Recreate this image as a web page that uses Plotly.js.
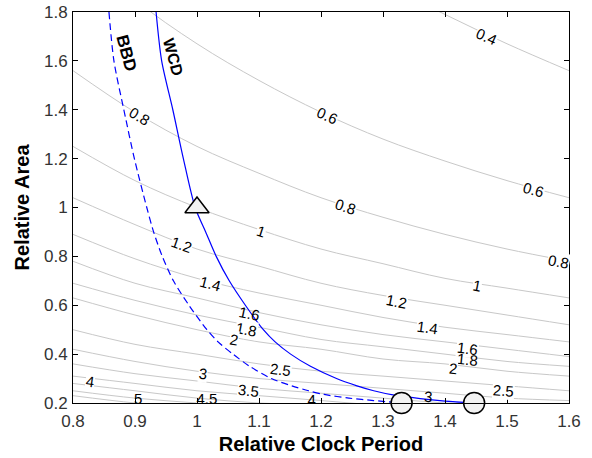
<!DOCTYPE html>
<html>
<head>
<meta charset="utf-8">
<script src="https://cdn.plot.ly/plotly-3.0.1.min.js"></script>
<style>html,body{margin:0;padding:0;background:#fff;}#chart{width:592px;height:458px;}</style>
</head>
<body>
<div id="chart"></div>
<script>
// ---- Data ----
// Clock-period positions at which each gray contour line was read
const contourT = [0.8, 0.9, 1.0, 1.1, 1.2, 1.3, 1.4, 1.5, 1.6];
// Contour level values (labels)
const contourLevels = [0.4, 0.6, 0.8, 1, 1.2, 1.4, 1.6, 1.8, 2, 2.5, 3, 3.5, 4, 4.5, 5, 5.5];
// Relative area of each contour line at contourT
const contourA = [
  [3.13, 2.78, 2.50, 2.27, 2.08, 1.92, 1.79, 1.67, 1.56],
  [2.08, 1.85, 1.67, 1.52, 1.39, 1.28, 1.19, 1.11, 1.04],
  [1.56, 1.39, 1.25, 1.14, 1.04, 0.96, 0.89, 0.83, 0.78],
  [1.25, 1.11, 1.00, 0.91, 0.83, 0.77, 0.71, 0.67, 0.63],
  [1.04, 0.93, 0.83, 0.76, 0.69, 0.64, 0.60, 0.56, 0.52],
  [0.89, 0.79, 0.71, 0.65, 0.60, 0.55, 0.51, 0.48, 0.45],
  [0.78, 0.69, 0.63, 0.57, 0.52, 0.48, 0.45, 0.42, 0.39],
  [0.69, 0.62, 0.56, 0.51, 0.46, 0.43, 0.40, 0.37, 0.35],
  [0.63, 0.56, 0.50, 0.45, 0.42, 0.38, 0.36, 0.33, 0.31],
  [0.50, 0.44, 0.40, 0.36, 0.33, 0.31, 0.29, 0.27, 0.25],
  [0.42, 0.37, 0.33, 0.30, 0.28, 0.26, 0.24, 0.22, 0.21],
  [0.36, 0.32, 0.29, 0.26, 0.24, 0.22, 0.20, 0.19, 0.18],
  [0.31, 0.28, 0.25, 0.23, 0.21, 0.19, 0.18, 0.17, 0.16],
  [0.28, 0.25, 0.22, 0.20, 0.19, 0.17, 0.16, 0.15, 0.14],
  [0.25, 0.22, 0.20, 0.18, 0.17, 0.15, 0.14, 0.13, 0.13],
  [0.23, 0.20, 0.18, 0.17, 0.15, 0.14, 0.13, 0.12, 0.11]
];

// WCD curve (solid)
const wcdT = [0.934, 0.943, 0.961, 0.978, 0.997, 1.014, 1.031, 1.052, 1.078, 1.107, 1.126, 1.151, 1.183, 1.225, 1.258, 1.285, 1.316, 1.36, 1.40, 1.447];
const wcdA = [1.80, 1.60, 1.40, 1.20, 1.00, 0.90, 0.80, 0.70, 0.60, 0.50, 0.45, 0.40, 0.35, 0.30, 0.27, 0.25, 0.233, 0.218, 0.208, 0.20];
// BBD curve (dashed)
const bbdT = [0.858, 0.866, 0.882, 0.899, 0.919, 0.930, 0.944, 0.962, 0.987, 1.016, 1.034, 1.058, 1.085, 1.12, 1.153, 1.18, 1.205, 1.245, 1.285, 1.33];
const bbdA = [1.80, 1.60, 1.40, 1.20, 1.00, 0.90, 0.80, 0.70, 0.60, 0.50, 0.45, 0.40, 0.35, 0.30, 0.27, 0.25, 0.235, 0.22, 0.21, 0.20];

// Design points
const triT = [1.0];
const triA = [1.0];
const circT = [1.33, 1.447];
const circA = [0.20, 0.20];

// Contour labels (inline, rotated along the line)
const labelText  = ['0.4', '0.6', '0.6', '0.8', '0.8', '0.8', '1', '1', '1.2', '1.2', '1.4', '1.4', '1.6', '1.6', '1.8', '1.8', '2', '2', '2.5', '2.5', '3', '3', '3.5', '4'];
const labelT     = [1.467, 1.21, 1.542, 0.908, 1.239, 1.583, 1.104, 1.451, 0.975, 1.322, 1.021, 1.372, 1.085, 1.437, 1.08, 1.437, 1.059, 1.413, 1.134, 1.494, 1.010, 1.372, 1.083, 0.828];
const labelA     = [1.699, 1.378, 1.072, 1.372, 1.003, 0.778, 0.901, 0.679, 0.847, 0.615, 0.690, 0.510, 0.567, 0.424, 0.502, 0.376, 0.461, 0.342, 0.338, 0.253, 0.322, 0.226, 0.253, 0.287];
const labelAngle = [24, 24, 15, 31, 18, 11, 18, 11, 19, 11, 15, 8, 12, 7, 11, 6, 10, 6, 7, 4, 7, 4, 6, 8];
const labelNoBg  = ['1.6@1.085', '3@1.372', '1.8@1.437'];
// Labels partly hidden by the bottom axis
const cutText = ['5', '4.5', '4'];
const cutT = [0.905, 1.016, 1.185];
const cutA = [0.212, 0.213, 0.207];

// Axis ticks
const xTicks = [0.8, 0.9, 1.0, 1.1, 1.2, 1.3, 1.4, 1.5, 1.6];
const xTickText = ['0.8', '0.9', '1', '1.1', '1.2', '1.3', '1.4', '1.5', '1.6'];
const yTicks = [0.2, 0.4, 0.6, 0.8, 1.0, 1.2, 1.4, 1.6, 1.8];
const yTickText = ['0.2', '0.4', '0.6', '0.8', '1', '1.2', '1.4', '1.6', '1.8'];

// ---- Build traces ----
const FONT = 'Arial, Liberation Sans, sans-serif';
const traces = [];
contourLevels.forEach((lv, i) => {
  traces.push({
    type: 'scatter', mode: 'lines', x: contourT, y: contourA[i],
    line: {color: '#c8c8c8', width: 1, shape: 'spline'},
    hoverinfo: 'skip', showlegend: false, name: String(lv)
  });
});
traces.push({
  type: 'scatter', mode: 'text', x: cutT, y: cutA, text: cutText,
  textfont: {family: FONT, size: 15, color: '#000'},
  textposition: 'middle center', cliponaxis: true, showlegend: false, hoverinfo: 'skip'
});
traces.push({
  type: 'scatter', mode: 'lines', x: bbdT, y: bbdA, name: 'BBD',
  line: {color: '#0000ff', width: 1.2, dash: '7px,4px', shape: 'spline', smoothing: 0.8}, showlegend: false
});
traces.push({
  type: 'scatter', mode: 'lines', x: wcdT, y: wcdA, name: 'WCD',
  line: {color: '#0000ff', width: 1.2, shape: 'spline', smoothing: 0.8}, showlegend: false
});
traces.push({
  type: 'scatter', mode: 'markers', x: triT, y: triA, cliponaxis: false,
  marker: {symbol: 'triangle-up', size: 21, color: '#f2f2f2', line: {color: '#000', width: 1.5}},
  showlegend: false
});
traces.push({
  type: 'scatter', mode: 'markers', x: circT, y: circA, cliponaxis: false,
  marker: {symbol: 'circle', size: 21, color: '#f2f2f2', line: {color: '#000', width: 1.5}},
  showlegend: false
});

const labelFont = {family: FONT, size: 15, color: '#000'};
const annotations = labelText.map((t, i) => {
  const key = t + '@' + labelT[i];
  const noBg = labelNoBg.indexOf(key) >= 0;
  return {
    x: labelT[i], y: labelA[i], xref: 'x', yref: 'y', text: t, showarrow: false,
    textangle: labelAngle[i], font: labelFont,
    bgcolor: noBg ? 'rgba(0,0,0,0)' : '#ffffff', borderpad: 0,
    xanchor: 'center', yanchor: 'middle'
  };
});
annotations.push({
  x: 0.8865, y: 1.631, xref: 'x', yref: 'y', text: '<b>BBD</b>', showarrow: false,
  textangle: 75, font: {family: FONT, size: 17, color: '#000'}
});
annotations.push({
  x: 0.961, y: 1.617, xref: 'x', yref: 'y', text: '<b>WCD</b>', showarrow: false,
  textangle: 75, font: {family: FONT, size: 16, color: '#000'}
});

const axisCommon = {
  showgrid: false, zeroline: false, showline: true, linecolor: '#000', linewidth: 1,
  mirror: 'ticks', ticks: 'inside', ticklen: 5, tickcolor: '#000', tickwidth: 1,
  tickfont: {family: FONT, size: 17, color: '#333'},
  tickmode: 'array'
};

const layout = {
  width: 592, height: 458,
  margin: {l: 73, r: 23, t: 12, b: 55},
  paper_bgcolor: '#fff', plot_bgcolor: '#fff',
  xaxis: Object.assign({}, axisCommon, {
    range: [0.8, 1.6], tickvals: xTicks, ticktext: xTickText, ticklabelstandoff: 3,
    title: {text: '<b>Relative Clock Period</b>', standoff: 6,
      font: {family: FONT, size: 20, color: '#000'}}
  }),
  yaxis: Object.assign({}, axisCommon, {
    range: [0.2, 1.8], tickvals: yTicks, ticktext: yTickText, ticklabelstandoff: 1,
    title: {text: '<b>Relative Area</b>', standoff: 8,
      font: {family: FONT, size: 20, color: '#000'}}
  }),
  annotations: annotations,
  showlegend: false
};

Plotly.newPlot('chart', traces, layout, {displayModeBar: false, staticPlot: true});
</script>
</body>
</html>
